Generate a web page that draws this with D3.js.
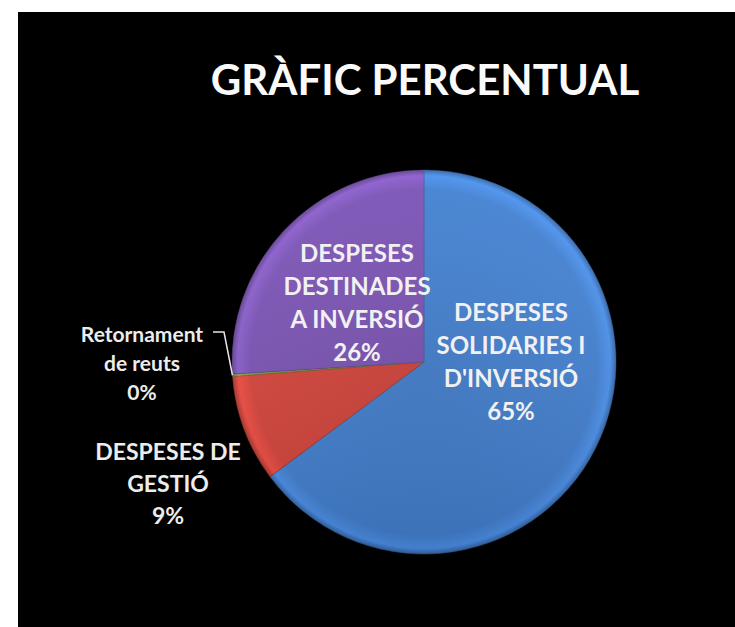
<!DOCTYPE html>
<html>
<head>
<meta charset="utf-8">
<script src="https://cdn.jsdelivr.net/npm/d3@7"></script>
<style>
  html, body { margin: 0; padding: 0; background: #fff; }
  svg { display: block; }
</style>
</head>
<body>
<svg id="chart" width="735" height="627"></svg>
<script>
const title = "GRÀFIC PERCENTUAL"
const categories = ["Despeses solidaries", "Despeses de gestió", "Retornament de reuts", "Despeses destinades a inversió"]
const values = [64.8, 9.0, 0.2, 26.0]
const labelLines = [
    ["DESPESES", "SOLIDARIES I", "D'INVERSIÓ"],
    ["DESPESES DE", "GESTIÓ"],
    ["Retornament", "de reuts"],
    ["DESPESES", "DESTINADES", "A INVERSIÓ"]
]
const colors = ["#4482d3", "#d7453c", "#7f9a48", "#7c54b6"]

const svg = d3.select("#chart")
const W = 735, H = 627
const cx = 424, cy = 362, R = 192

// black backdrop
svg.append("rect")
    .attr("x", 18).attr("y", 12)
    .attr("width", W - 18).attr("height", H - 12)
    .attr("fill", "#000")

svg.append("text")
    .attr("x", 425).attr("y", 95)
    .attr("text-anchor", "middle")
    .style("font-family", "Lato, 'Open Sans', sans-serif")
    .style("font-weight", 700)
    .style("font-size", "42px")
    .attr("fill", "#fafafa")
    .text(title)

// bevel-ish look: slightly darker middle, light rim, dark outer edge
const defs = svg.append("defs")
colors.forEach((c, i) => {
    const base = d3.color(c)
    const gr = defs.append("radialGradient")
        .attr("id", "grad" + i)
        .attr("gradientUnits", "userSpaceOnUse")
        .attr("cx", 0).attr("cy", 0).attr("r", R)
    gr.append("stop").attr("offset", "0%").attr("stop-color", base.darker(0.15))
    gr.append("stop").attr("offset", "90%").attr("stop-color", base)
    gr.append("stop").attr("offset", "97%").attr("stop-color", base.brighter(0.35))
    gr.append("stop").attr("offset", "100%").attr("stop-color", base.darker(0.6))
})
const shade = defs.append("linearGradient")
    .attr("id", "shade").attr("x1", 0).attr("y1", 0).attr("x2", 0).attr("y2", 1)
shade.append("stop").attr("offset", "0%").attr("stop-color", "#fff").attr("stop-opacity", 0.04)
shade.append("stop").attr("offset", "100%").attr("stop-color", "#000").attr("stop-opacity", 0.14)

const pie = d3.pie().sort(null).value(d => d)
const arcs = pie(values)
const arc = d3.arc().innerRadius(0).outerRadius(R)

const g = svg.append("g").attr("transform", `translate(${cx},${cy})`)
g.selectAll("path.slice")
    .data(arcs)
    .enter()
    .append("path")
        .attr("class", "slice")
        .attr("d", arc)
        .attr("fill", (_, i) => `url(#grad${i})`)
        .attr("stroke", (_, i) => d3.color(colors[i]).darker(0.8))
        .attr("stroke-width", 0.8)
        .attr("stroke-opacity", 0.6)

g.append("circle").attr("r", R).attr("fill", "url(#shade)")

const total = d3.sum(values)
const pct = v => Math.round(v / total * 100) + "%"

// label blocks, centers relative to pie center
const anchors = [
    { x: 87, y: 0, lh: 33, size: 24, inside: true },
    { x: -256, y: 122, lh: 32, size: 23, inside: false },
    { x: -282, y: 1, lh: 29, size: 21, inside: false },
    { x: -67, y: -59, lh: 33, size: 24, inside: true }
]

arcs.forEach((a, i) => {
    const lines = labelLines[i].concat([pct(values[i])])
    const an = anchors[i]
    const top = an.y - (lines.length - 1) * an.lh / 2
    const t = g.append("text")
        .attr("text-anchor", "middle")
        .style("font-family", "Lato, 'Open Sans', sans-serif")
        .style("font-weight", 700)
        .style("font-size", an.size + "px")
        .attr("fill", an.inside ? "#f1f1f1" : "#ececec")
    lines.forEach((l, k) => {
        t.append("tspan")
            .attr("x", an.x)
            .attr("y", top + k * an.lh + an.size * 0.36)
            .text(l)
    })
})

// leader line for the tiny slice
const tiny = arcs[2]
const mid = (tiny.startAngle + tiny.endAngle) / 2
const edge = [Math.sin(mid) * R, -Math.cos(mid) * R]
g.append("path")
    .attr("d", d3.line()([[-211, -30], [-200, -30], edge]))
    .attr("fill", "none")
    .attr("stroke", "#e6e6e6")
    .attr("stroke-width", 1.5)
</script>
</body>
</html>
